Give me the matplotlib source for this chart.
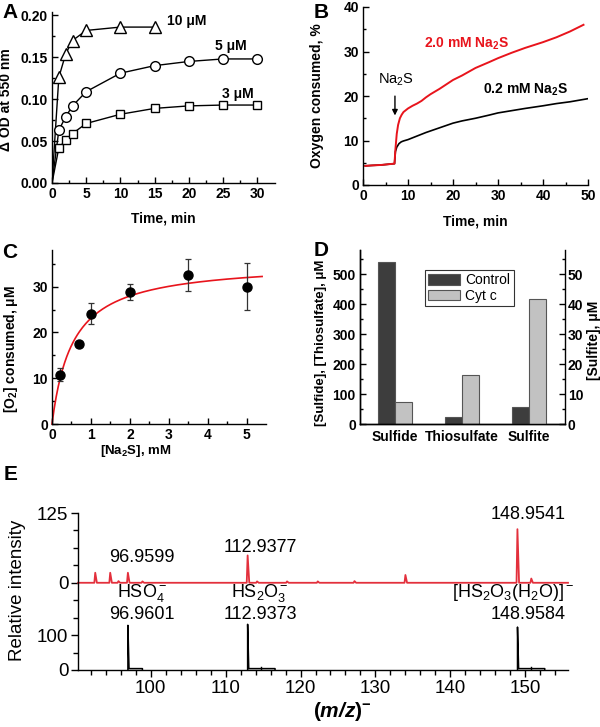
import matplotlib
matplotlib.use("Agg")
import matplotlib.pyplot as plt
import numpy as np

plt.rcParams['font.family'] = ['Liberation Sans', 'DejaVu Sans']
plt.rcParams['mathtext.fontset'] = 'custom'
plt.rcParams['mathtext.rm'] = 'Liberation Sans'
plt.rcParams['mathtext.bf'] = 'Liberation Sans:bold'
plt.rcParams['mathtext.it'] = 'Liberation Sans:italic'
plt.rcParams['mathtext.bfit'] = 'Liberation Sans:italic:bold'
plt.rcParams['axes.linewidth'] = 1.0

# ---- panel A: delta OD vs time
t_a = [0, 1, 2, 3, 5, 10, 15, 20, 25, 30]
od_10 = [0, 0.126, 0.154, 0.170, 0.182, 0.186, 0.186]
od_5 = [0, 0.063, 0.079, 0.092, 0.109, 0.131, 0.140, 0.145, 0.148, 0.148]
od_3 = [0, 0.042, 0.051, 0.059, 0.071, 0.082, 0.089, 0.092, 0.093, 0.093]

# ---- panel B: oxygen consumption traces
t_hi = [0.5, 2, 4, 6, 7, 7.2, 7.5, 7.8, 8.2, 8.6, 9, 10, 11, 12, 13, 14, 15, 17,
        20, 22, 25, 28, 30, 33, 36, 40, 43, 46, 49]
o2_hi = [4.3, 4.4, 4.5, 4.7, 4.8, 8.0, 11.5, 13.5, 15.0, 15.8, 16.4, 17.2, 17.8,
         18.3, 18.9, 19.7, 20.4, 21.6, 23.6, 24.6, 26.3, 27.6, 28.5, 29.7, 30.8,
         32.1, 33.2, 34.5, 36.0]
t_lo = [0.5, 2, 4, 6, 7, 7.2, 7.5, 8, 8.5, 9, 10, 12, 14, 16, 18, 20, 22, 25, 28,
        30, 33, 36, 40, 43, 46, 50]
o2_lo = [4.3, 4.4, 4.5, 4.7, 4.8, 7.5, 8.5, 9.3, 9.7, 9.9, 10.2, 11.0, 11.8, 12.5,
         13.2, 13.9, 14.4, 15.0, 15.7, 16.2, 16.7, 17.2, 17.8, 18.3, 18.7, 19.4]

# ---- panel C: O2 consumed vs Na2S
na2s = np.array([0.2, 0.7, 1.0, 2.0, 3.5, 5.0])
o2_c = np.array([10.8, 17.5, 24.1, 28.8, 32.6, 30.0])
o2_err = [1.5, 0.0, 2.3, 1.8, 3.5, 5.1]

# ---- panel D: sulfur species
species = ['Sulfide', 'Thiosulfate', 'Sulfite']
control = [540, 23, 5.7]   # sulfite on right axis
cytc = [74, 162, 41.8]

# ---- panel E: mass spectra (stick peaks)
red_mz = [92.6, 94.6, 95.7, 96.96, 98.9, 112.94, 114.2, 118.2, 122.3, 127.2, 134.0, 148.95, 150.8]
red_int = [18, 18, 3, 18, 2.5, 49, 2.5, 2.5, 2.5, 3, 14, 96, 7.6]
blk_mz = [96.96, 112.94, 148.96]
blk_int = [128, 131, 123]
blk_tail_end = [98.9, 116.6, 152.6]
blk_bump_mz = [114.7, 150.8]
blk_bump_int = [9, 9]

fig = plt.figure(figsize=(6, 7.27), dpi=100)
W, H = 600.0, 727.0


def box(l, t, r, b):
    return [l / W, 1 - b / H, (r - l) / W, (b - t) / H]


def style(ax, fs=10):
    ax.spines['top'].set_visible(False)
    ax.spines['right'].set_visible(False)
    ax.tick_params(which='major', direction='in', length=4, width=1, labelsize=fs, pad=3)
    ax.tick_params(which='minor', direction='in', length=2.5, width=1)
    for lab in ax.get_xticklabels() + ax.get_yticklabels():
        lab.set_fontweight('bold')


lab_kw = dict(fontsize=10, fontweight='bold')

# A
axA = fig.add_axes(box(52, 12, 275, 183))
axA.plot(t_a[:7], od_10, '-', color='black', lw=1, marker='^', ms=8, mfc='white',
         mec='black', mew=1, markevery=list(range(1, 7)))
axA.plot(t_a, od_5, '-', color='black', lw=1, marker='o', ms=7, mfc='white',
         mec='black', mew=1, markevery=list(range(1, 10)))
axA.plot(t_a, od_3, '-', color='black', lw=1, marker='s', ms=6, mfc='white',
         mec='black', mew=1, markevery=list(range(1, 10)))
axA.set_xlim(0, 32.6)
axA.set_ylim(0, 0.204)
axA.set_xticks([0, 5, 10, 15, 20, 25, 30])
axA.set_xticks(np.arange(2.5, 32.5, 5), minor=True)
axA.set_yticks([0, 0.05, 0.10, 0.15, 0.20])
axA.set_yticks([0.025, 0.075, 0.125, 0.175], minor=True)
axA.set_yticklabels(['0.00', '0.05', '0.10', '0.15', '0.20'])
style(axA)
axA.text(16.8, 0.193, '10 μM', ha='left', va='center', **lab_kw)
axA.text(26.1, 0.163, '5 μM', ha='center', va='center', **lab_kw)
axA.text(27.1, 0.1066, '3 μM', ha='center', va='center', **lab_kw)
axA.set_ylabel('Δ OD at 550 nm', **lab_kw)
axA.yaxis.set_label_coords(-0.175, 0.485)
axA.set_xlabel('Time, min', **lab_kw)
axA.xaxis.set_label_coords(0.5, -0.165)

# B
axB = fig.add_axes(box(363, 7, 588, 185))
axB.plot(t_lo, o2_lo, color='black', lw=1.2)
axB.plot(t_hi, o2_hi, color='#e8141c', lw=1.4)
axB.set_xlim(0, 50)
axB.set_ylim(0, 40)
axB.set_xticks([0, 10, 20, 30, 40, 50])
axB.set_xticks([5, 15, 25, 35, 45], minor=True)
axB.set_yticks([0, 10, 20, 30, 40])
axB.set_yticks([5, 15, 25, 35], minor=True)
style(axB)
axB.text(13.6, 31.7, r'2.0 mM Na$_\mathbf{2}$S', color='#e8141c', ha='left', va='center', **lab_kw)
axB.text(26.7, 21.3, r'0.2 mM Na$_\mathbf{2}$S', color='black', ha='left', va='center', **lab_kw)
axB.text(3.3, 23.6, r'Na$_\mathrm{2}$S', ha='left', va='center', fontsize=10.5)
axB.annotate('', xy=(7.1, 15.0), xytext=(7.1, 20.6),
             arrowprops=dict(arrowstyle='-|>', color='black', lw=1, mutation_scale=8))
axB.set_ylabel('Oxygen consumed, %', **lab_kw)
axB.yaxis.set_label_coords(-0.175, 0.5)
axB.set_xlabel('Time, min', **lab_kw)
axB.xaxis.set_label_coords(0.5, -0.165)

# C
axC = fig.add_axes(box(52, 250, 266, 424))
# hyperbolic fit to the data points
best = None
for k in np.linspace(0.05, 3, 600):
    f = na2s / (k + na2s)
    v = (o2_c @ f) / (f @ f)
    sse = ((o2_c - v * f) ** 2).sum()
    if best is None or sse < best[0]:
        best = (sse, k, v)
_, km, vmax = best
xf = np.linspace(0, 5.4, 200)
axC.plot(xf, vmax * xf / (km + xf), color='#e8141c', lw=1.2, clip_on=False, zorder=2)
axC.errorbar(na2s, o2_c, yerr=o2_err, fmt='o', color='black', ms=6.5,
             ecolor='#333333', elinewidth=0.9, capsize=2, capthick=0.9, zorder=3)
axC.set_xlim(0, 5.5)
axC.set_ylim(0, 38)
axC.set_xticks([0, 1, 2, 3, 4, 5])
axC.set_xticks(np.arange(0.5, 5.5, 1.0), minor=True)
axC.set_yticks([0, 10, 20, 30])
axC.set_yticks([5, 15, 25, 35], minor=True)
style(axC)
axC.set_ylabel(r'[O$_\mathbf{2}$] consumed, μM', **lab_kw)
axC.yaxis.set_label_coords(-0.15, 0.43)
axC.set_xlabel(r'[Na$_\mathbf{2}$S], mM', fontsize=9.5, fontweight='bold')
axC.xaxis.set_label_coords(0.39, -0.11)

# D
axD = fig.add_axes(box(360, 250, 565, 424))
axD2 = axD.twinx()
pos = np.arange(1, 4)
bw = 0.25
c_dark, c_light, c_edge = '#3d3d3d', '#c2c2c2', '#555555'
axD.bar(pos[:2] - bw / 2, control[:2], bw, color=c_dark, edgecolor=c_edge, lw=0.8, label='Control')
axD.bar(pos[:2] + bw / 2, cytc[:2], bw, color=c_light, edgecolor=c_edge, lw=0.8, label='Cyt c')
axD2.bar(pos[2] - bw / 2, control[2], bw, color=c_dark, edgecolor=c_edge, lw=0.8)
axD2.bar(pos[2] + bw / 2, cytc[2], bw, color=c_light, edgecolor=c_edge, lw=0.8)
axD.set_xlim(0.48, 3.54)
axD.set_ylim(0, 580)
axD2.set_ylim(0, 58)
axD.set_xticks(pos)
axD.set_xticklabels(species)
axD.set_yticks([0, 100, 200, 300, 400, 500])
axD.set_yticks(np.arange(50, 580, 100), minor=True)
axD2.set_yticks([0, 10, 20, 30, 40, 50])
axD2.set_yticks(np.arange(5, 58, 10), minor=True)
style(axD)
axD.tick_params(axis='x', length=0, pad=4, labelsize=10)
axD2.spines['top'].set_visible(False)
axD2.tick_params(which='major', direction='in', length=4, width=1, labelsize=10, pad=2)
axD2.tick_params(which='minor', direction='in', length=2.5, width=1)
for lab in axD2.get_yticklabels():
    lab.set_fontweight('bold')
leg = axD.legend(loc='upper left', bbox_to_anchor=(0.317, 0.885), fontsize=10,
                 frameon=True, fancybox=False, edgecolor='black', handlelength=2.3,
                 handleheight=0.8, borderpad=0.25, labelspacing=0.1, handletextpad=0.35,
                 borderaxespad=0)
leg.get_frame().set_linewidth(0.8)
axD.set_ylabel('[Sulfide], [Thiosulfate], μM', fontsize=9.5, fontweight='bold')
axD.yaxis.set_label_coords(-0.16, 0.465)
axD2.set_ylabel('[Sulfite], μM', **lab_kw)
axD2.yaxis.set_label_coords(1.105, 0.48)

# E
axE = fig.add_axes(box(78, 513, 568, 670))
TOP0, TOPSC, BOTSC = 5.0, 1 / 31.25, 1 / 50.0
xmin, xmax = 90.3, 155.7
# red spectrum as one polyline with baseline
rx, ry = [xmin], [TOP0]
for m, h in zip(red_mz, red_int):
    rx += [m - 0.12, m, m + 0.22]
    ry += [TOP0, TOP0 + h * TOPSC, TOP0]
rx.append(xmax)
ry.append(TOP0)
axE.plot(rx, ry, color='#e3303c', lw=1.3, clip_on=False)
# black spectrum
for m, h, te in zip(blk_mz, blk_int, blk_tail_end):
    axE.plot([m, m, m + 0.15, te, te], [0, h * BOTSC, 4 * BOTSC, 4 * BOTSC, 0],
             color='black', lw=1.1)
for m, h in zip(blk_bump_mz, blk_bump_int):
    axE.plot([m, m], [0, h * BOTSC], color='black', lw=1.0)
axE.set_xlim(xmin, xmax)
axE.set_ylim(0, 9)
axE.set_xticks([100, 110, 120, 130, 140, 150])
axE.set_xticks(np.arange(92, 156, 2), minor=True)
axE.set_yticks([0, 2, 5, 9])
axE.set_yticklabels(['0', '100', '0', '125'])
axE.set_yticks([1, 3, 4, 6, 7, 8], minor=True)
axE.spines['top'].set_visible(False)
axE.spines['right'].set_visible(False)
axE.tick_params(direction='out', length=5, width=1, labelsize=13.5, pad=2)
axE.tick_params(which='minor', direction='out', length=3.5, width=1)
ek = dict(fontsize=13, ha='center', va='center')
axE.text(98.8, 6.43, '96.9599', **ek)
axE.text(114.6, 7.0, '112.9377', **ek)
axE.text(150.4, 8.9, '148.9541', **ek)
axE.text(98.8, 4.43, r'HSO$_4^-$', **ek)
axE.text(98.8, 3.16, '96.9601', **ek)
axE.text(114.6, 4.43, r'HS$_2$O$_3^-$', **ek)
axE.text(114.6, 3.16, '112.9373', **ek)
axE.text(148.4, 4.43, r'[HS$_2$O$_3$(H$_2$O)]$^-$', **ek)
axE.text(150.4, 3.16, '148.9584', **ek)
axE.set_ylabel('Relative intensity', fontsize=13.5)
axE.yaxis.set_label_coords(-0.106, 0.51)
axE.set_xlabel(r'$\mathbf{(}\mathbfit{m/z}\mathbf{)}^{\mathbf{-}}$', fontsize=15)
axE.xaxis.set_label_coords(0.54, -0.19)

# panel letters
for letter, px, py in [('A', 10, 12), ('B', 321, 12), ('C', 10, 252), ('D', 321, 251), ('E', 11, 475)]:
    fig.text(px / W, 1 - py / H, letter, fontsize=15, fontweight='bold', ha='center', va='center')

fig.savefig('out.png', dpi=100)
